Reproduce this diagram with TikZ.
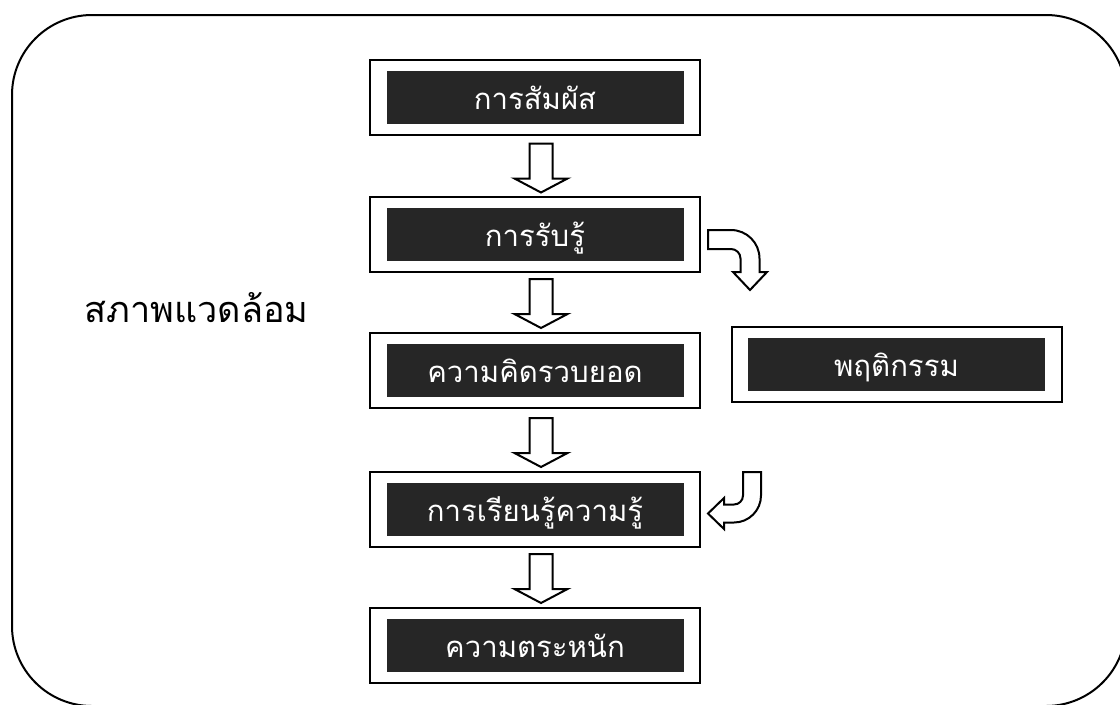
\documentclass[tikz,border=0pt]{standalone}
\usepackage{fontspec}
\newfontfamily\thaifont[Script=Thai]{Loma}
\usetikzlibrary{calc}
\definecolor{boxgray}{HTML}{262626}
\tikzset{
	x=0.75pt,
	y=-0.75pt,
	frame/.style={
		draw=black,
		line width=1.5pt,
		rounded corners=60pt
	},
	outerbox/.style={
		draw=black,
		fill=white,
		line width=1.5pt,
		inner sep=0pt,
		minimum width=247.5pt,
		minimum height=56.25pt
	},
	innerbox/.style={
		fill=boxgray,
		text=white,
		inner sep=0pt,
		minimum width=222.75pt,
		minimum height=39.75pt,
		text height=21pt,
		text depth=3pt,
		font=\thaifont\fontsize{22}{26}\selectfont
	},
	blockarrow/.style={
		draw=black,
		fill=white,
		line width=1.5pt,
		line join=miter
	},
	blockdown/.pic={
		\draw [blockarrow] (-11.5,0) -- (-11.5,35) -- (-26.5,35) -- (0,49)
			-- (26.5,35) -- (11.5,35) -- (11.5,0) -- cycle;
	}
}

\begin{document}
\begin{tikzpicture}
	\useasboundingbox (0,0) rectangle (1120,704);
	\clip (0,0) rectangle (1120,704);
	\draw [frame] (12,15) rectangle (1126,706);

	\node [font=\thaifont\fontsize{27}{32}\selectfont, anchor=base west] (env) at (80,322) {สภาพแวดล้อม};

	\node [outerbox] (touch) at (535,97) {};
	\node [innerbox] at (touch) {การสัมผัส};
	\node [outerbox] (perceive) at (535,234.5) {};
	\node [innerbox] at (perceive) {การรับรู้};
	\node [outerbox] (concept) at (535,370.5) {};
	\node [innerbox] at (concept) {ความคิดรวบยอด};
	\node [outerbox] (learn) at (535,509.5) {};
	\node [innerbox] at (learn) {การเรียนรู้ความรู้};
	\node [outerbox] (aware) at (535,645.5) {};
	\node [innerbox] at (aware) {ความตระหนัก};
	\node [outerbox] (behave) at (896.5,364.5) {};
	\node [innerbox] at (behave) {พฤติกรรม};

	% straight arrows down the chain
	\pic at ($(touch.south)+(6,8)$) {blockdown};
	\pic at ($(perceive.south)+(6,6)$) {blockdown};
	\pic at ($(concept.south)+(6,9)$) {blockdown};
	\pic at ($(learn.south)+(6,6)$) {blockdown};

	% bent arrows on the right
	\draw [blockarrow] ($(perceive.east)+(7,-4.5)$) -- ++(23,0)
		arc [start angle=-90, end angle=0, radius=28.5] -- ++(0,13.5)
		-- ++(7.5,0) -- ++(-17,18) -- ++(-17,-18) -- ++(7.5,0) -- ++(0,-13.5)
		arc [start angle=0, end angle=-90, radius=9.5] -- ++(-23,0) -- cycle;
	\draw [blockarrow] ($(learn.east)+(7,4)$) -- ++(16,-15.5) -- ++(0,6.5)
		-- ++(10,0) arc [start angle=90, end angle=0, radius=9] -- ++(0,-23.5)
		-- ++(18,0) -- ++(0,23.5) arc [start angle=0, end angle=90, radius=27]
		-- ++(-10,0) -- ++(0,6.5) -- cycle;
\end{tikzpicture}
\end{document}
